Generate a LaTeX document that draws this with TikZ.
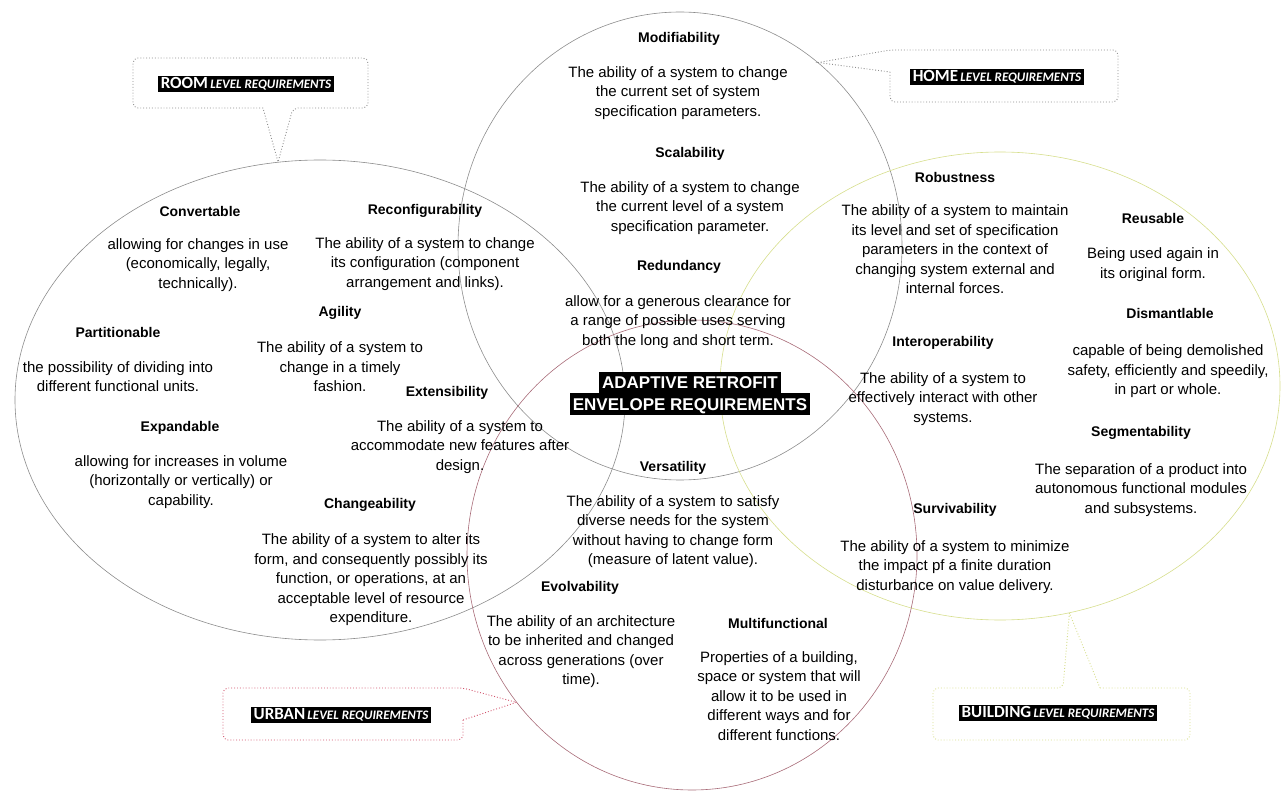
\documentclass[tikz,border=0pt]{standalone}
\usepackage{fontspec}
\setmainfont{Liberation Sans}
\newfontfamily\callfont{Carlito}
\usepackage{tikz}
\usetikzlibrary{shapes.geometric}

\definecolor{roomgray}{rgb}{0.55,0.55,0.55}
\definecolor{homegray}{rgb}{0.55,0.55,0.55}
\definecolor{bldgyellow}{rgb}{0.84,0.87,0.55}
\definecolor{urbanred}{rgb}{0.66,0.42,0.47}
\definecolor{urbandot}{rgb}{0.82,0.32,0.42}

\begin{document}
\begin{tikzpicture}[x=1pt,y=-1pt,
    zone/.style={ellipse,draw,line width=0.6pt,inner sep=0pt},
    head/.style={font=\fontsize{14}{17}\selectfont\bfseries,inner sep=0pt},
    txt/.style={align=center,font=\fontsize{15}{19.5}\selectfont,inner sep=0pt},
    lvl/.style={fill=black,text=white,inner xsep=3pt,inner ysep=2pt,font=\callfont\bfseries},
    title/.style={fill=black,text=white,font=\fontsize{17}{17}\selectfont\bfseries,
      inner xsep=3pt,inner ysep=4.5pt,text height=12.5pt,text depth=0pt},
    bubble/.style={dotted,line width=0.9pt}]

\useasboundingbox (0,0) rectangle (1288,794);

\node[zone,draw=roomgray,minimum width=610pt,minimum height=480pt] (room) at (320,400) {};
\node[zone,draw=homegray,minimum width=444pt,minimum height=468pt] (home) at (680,246) {};
\node[zone,draw=bldgyellow,minimum width=560pt,minimum height=468pt] (bldg) at (1000,386) {};
\node[zone,draw=urbanred,minimum width=450pt,minimum height=470pt] (urban) at (692,555) {};

\coordinate (roomtip) at (room.100);
\coordinate (hometip) at (home.53);
\coordinate (urbantip) at (urban.220);
\coordinate (bldgtip) at (bldg.287);

\draw[bubble,draw=roomgray] (263,108) [rounded corners=5pt] -- (133,108) -- (133,58) -- (368,58)
  -- (368,108) -- (293,108) [sharp corners] -- (roomtip) -- cycle;
\draw[bubble,draw=homegray] (890,72) [rounded corners=5pt] -- (890,102) -- (1118,102) -- (1118,50)
  -- (890,50) [sharp corners] -- (hometip) -- cycle;
\draw[bubble,draw=urbandot] (463,720) [rounded corners=5pt] -- (463,740) -- (223,740) -- (223,688)
  -- (463,688) [sharp corners] -- (urbantip) -- cycle;
\draw[bubble,draw=bldgyellow] (1100,688) [rounded corners=5pt] -- (1190,688) -- (1190,740) -- (933,740)
  -- (933,688) -- (1063,688) [sharp corners] -- (bldgtip) -- cycle;

\node[lvl] (roomlbl) at (246,84) {{\fontsize{17}{17}\selectfont ROOM} {\fontsize{13}{13}\selectfont\itshape LEVEL REQUIREMENTS}};
\node[lvl] (homelbl) at (997,77) {{\fontsize{17}{17}\selectfont HOME} {\fontsize{13}{13}\selectfont\itshape LEVEL REQUIREMENTS}};
\node[lvl] (urbanlbl) at (341,715) {{\fontsize{17}{17}\selectfont URBAN} {\fontsize{13}{13}\selectfont\itshape LEVEL REQUIREMENTS}};
\node[lvl] (bldglbl) at (1058,713) {{\fontsize{17}{17}\selectfont BUILDING} {\fontsize{13}{13}\selectfont\itshape LEVEL REQUIREMENTS}};

\node[title] (title1) at (690,382.5) {ADAPTIVE RETROFIT};
\node[title] (title2) at (690,404) {ENVELOPE REQUIREMENTS};

\node[head] (modif) at (679,39) {Modifiability};
\node[txt] (modifd) at (678,93) {The ability of a system to change\\the current set of system\\specification parameters.};
\node[head] (scal) at (690,154) {Scalability};
\node[txt] (scald) at (690,208) {The ability of a system to change\\the current level of a system\\specification parameter.};
\node[head] (redun) at (679,267) {Redundancy};
\node[txt] (redund) at (678,322) {allow for a generous clearance for\\a range of possible uses serving\\both the long and short term.};

\node[head] (conv) at (200,211) {Convertable};
\node[txt] (convd) at (198,265) {allowing for changes in use\\(economically, legally,\\technically).};
\node[head] (reconf) at (425,211) {Reconfigurability};
\node[txt] (reconfd) at (425,264) {The ability of a system to change\\its configuration (component\\arrangement and links).};
\node[head] (agil) at (340,313) {Agility};
\node[txt] (agild) at (340,367) {The ability of a system to\\change in a timely\\fashion.};
\node[head] (part) at (118,332) {Partitionable};
\node[txt] (partd) at (118,376.5) {the possibility of dividing into\\different functional units.};
\node[head] (ext) at (447,393) {Extensibility};
\node[txt] (extd) at (460,447) {The ability of a system to\\accommodate new features after\\design.};
\node[head] (expa) at (180,428) {Expandable};
\node[txt] (expad) at (181,482) {allowing for increases in volume\\(horizontally or vertically) or\\capability.};
\node[head] (chan) at (370,505) {Changeability};
\node[txt] (chand) at (371,580) {The ability of a system to alter its\\form, and consequently possibly its\\function, or operations, at an\\acceptable level of resource\\expenditure.};

\node[head] (vers) at (673,468) {Versatility};
\node[txt] (versd) at (673,531.5) {The ability of a system to satisfy\\diverse needs for the system\\without having to change form\\(measure of latent value).};
\node[head] (evol) at (580,588) {Evolvability};
\node[txt] (evold) at (581,651.5) {The ability of an architecture\\to be inherited and changed\\across generations (over\\time).};
\node[head] (multi) at (778,623) {Multifunctional};
\node[txt] (multid) at (779,696) {Properties of a building,\\space or system that will\\allow it to be used in\\different ways and for\\different functions.};

\node[head] (robu) at (955,177) {Robustness};
\node[txt] (robud) at (955,249.5) {The ability of a system to maintain\\its level and set of specification\\parameters in the context of\\changing system external and\\internal forces.};
\node[head] (reus) at (1153,218) {Reusable};
\node[txt] (reusd) at (1153,264.5) {Being used again in\\its original form.};
\node[head] (dism) at (1170,313) {Dismantlable};
\node[txt] (dismd) at (1168,371.5) {capable of being demolished\\safety, efficiently and speedily,\\in part or whole.};
\node[head] (inter) at (943,343) {Interoperability};
\node[txt] (interd) at (943,399) {The ability of a system to\\effectively interact with other\\systems.};
\node[head] (segm) at (1141,433) {Segmentability};
\node[txt] (segmd) at (1141,490) {The separation of a product into\\autonomous functional modules\\and subsystems.};
\node[head] (surv) at (955,510) {Survivability};
\node[txt] (survd) at (955,566.7) {The ability of a system to minimize\\the impact pf a finite duration\\disturbance on value delivery.};
\end{tikzpicture}
\end{document}
